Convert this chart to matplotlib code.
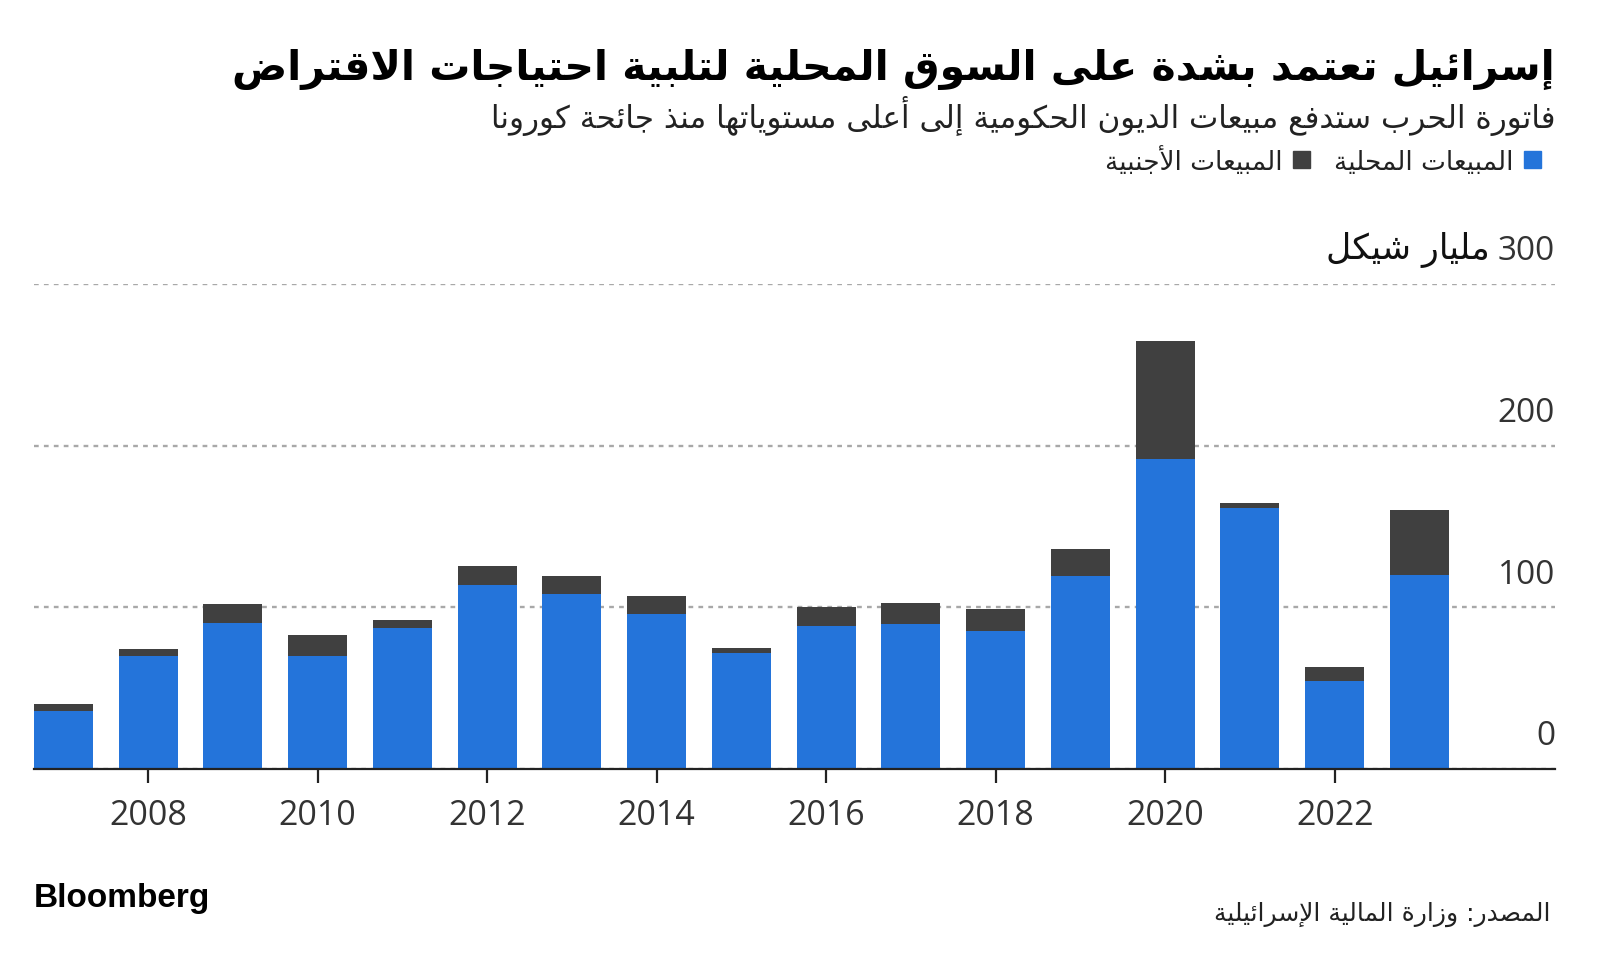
import re
import unicodedata

import matplotlib
matplotlib.use("Agg")
import matplotlib.pyplot as plt
from matplotlib.patches import Patch

# --- data ------------------------------------------------------------------ #
years = list(range(2007, 2024))
domestic = [36, 70, 90.3, 70, 87.2, 113.5, 108, 96, 71.6, 88.6, 89.4, 85.5,
            119.4, 191.8, 161.5, 54.3, 120.2]
foreign = [4, 4, 11.8, 13, 4.8, 12.3, 11.6, 11.3, 3.4, 11.5, 13.5, 13.5,
           16.8, 73.2, 3.3, 8.9, 39.8]
xtick_years = [2008, 2010, 2012, 2014, 2016, 2018, 2020, 2022]
yticks = [0, 100, 200, 300]

title = "إسرائيل تعتمد بشدة على السوق المحلية لتلبية احتياجات الاقتراض"
subtitle = "فاتورة الحرب ستدفع مبيعات الديون الحكومية إلى أعلى مستوياتها منذ جائحة كورونا"
lbl_domestic = "المبيعات المحلية"
lbl_foreign = "المبيعات الأجنبية"
unit = "مليار شيكل"
source = "المصدر: وزارة المالية الإسرائيلية"

BLUE = "#2474DA"
DARK = "#404040"


# --- minimal Arabic shaping + RTL ordering (matplotlib does neither) -------- #
RIGHT_JOIN = set("اأإآدذرزوؤةى")
LAM_ALEF = {"ا": "ALEF", "أ": "ALEF WITH HAMZA ABOVE",
            "إ": "ALEF WITH HAMZA BELOW", "آ": "ALEF WITH MADDA ABOVE"}


def _is_ar(ch):
    return "\u0620" <= ch <= "\u064a" and ch != "\u0621"


def _form(ch, form):
    try:
        return unicodedata.lookup(unicodedata.name(ch) + " " + form + " FORM")
    except KeyError:
        return ch


def ar(text):
    # merge lam + alef into a ligature token
    toks = []
    i = 0
    while i < len(text):
        c = text[i]
        if c == "ل" and i + 1 < len(text) and text[i + 1] in LAM_ALEF:
            toks.append(("LA", text[i + 1]))
            i += 2
        else:
            toks.append(("C", c))
            i += 1

    def joins_next(t):  # can connect to the following letter
        return t[0] == "C" and _is_ar(t[1]) and t[1] not in RIGHT_JOIN

    def joins_prev(t):
        return t[0] == "LA" or _is_ar(t[1])

    out = []
    for k, t in enumerate(toks):
        prev_ok = k > 0 and joins_next(toks[k - 1]) and joins_prev(t)
        next_ok = (k + 1 < len(toks) and joins_next(t)
                   and joins_prev(toks[k + 1]))
        if t[0] == "LA":
            name = "ARABIC LIGATURE LAM WITH " + LAM_ALEF[t[1]]
            form = "FINAL" if prev_ok else "ISOLATED"
            out.append(unicodedata.lookup(name + " " + form + " FORM"))
            continue
        c = t[1]
        if not _is_ar(c):
            out.append(c)
            continue
        if prev_ok and next_ok:
            out.append(_form(c, "MEDIAL"))
        elif prev_ok:
            out.append(_form(c, "FINAL"))
        elif next_ok:
            out.append(_form(c, "INITIAL"))
        else:
            out.append(_form(c, "ISOLATED"))
    vis = "".join(out)[::-1]
    return re.sub(r"[0-9A-Za-z]+", lambda m: m.group()[::-1], vis)


plt.rcParams["font.family"] = ["DejaVu Sans"]

fig = plt.figure(figsize=(16, 9.54), dpi=100)
ax = fig.add_axes([0.02125, 0.1929, 0.95065, 0.5084])

ax.bar(years, domestic, width=0.696, color=BLUE, zorder=3)
ax.bar(years, foreign, width=0.696, bottom=domestic, color=DARK, zorder=3)

ax.set_xlim(2006.652, 2024.6)
ax.set_ylim(0, 300)
for s in ["top", "right", "left"]:
    ax.spines[s].set_visible(False)
ax.spines["bottom"].set_color("#222222")
ax.spines["bottom"].set_linewidth(1.6)
ax.spines["bottom"].set_zorder(4)

ax.set_xticks(xtick_years)
ax.set_xticklabels([str(y) for y in xtick_years], family="Open Sans",
                   fontsize=24.5, color="#333333")
ax.tick_params(axis="x", length=10, width=1.6, color="#222222", pad=11)

ax.set_yticks(yticks)
ax.tick_params(axis="y", left=False, labelleft=False)
ax.yaxis.grid(True, color="#A8A8A8", linestyle=(0, (2.0, 2.2)), linewidth=1.7)
ax.set_axisbelow(True)

for v in yticks:
    ax.annotate(str(v), xy=(1, v), xycoords=("axes fraction", "data"),
                xytext=(0, 12), textcoords="offset points", ha="right",
                va="bottom", family="Open Sans", fontsize=24, color="#333333")
ax.annotate(ar(unit), xy=(1, 300), xycoords=("axes fraction", "data"),
            xytext=(-47, 12), textcoords="offset points", ha="right",
            va="bottom", fontsize=25, color="#111111")

fig.text(0.9719, 0.927, ar(title), ha="right", va="center",
         fontsize=29.5, fontweight="bold", color="#000000")
fig.text(0.9719, 0.878, ar(subtitle), ha="right", va="center",
         fontsize=22.3, color="#222222")

handles = [Patch(color=DARK), Patch(color=BLUE)]
labels = [ar(lbl_foreign), ar(lbl_domestic)]
fig.legend(handles, labels, loc="center right", bbox_to_anchor=(0.978, 0.831),
           ncol=2, frameon=False, markerfirst=False, fontsize=19,
           handlelength=0.65, handleheight=0.65, handletextpad=0.4,
           columnspacing=0.9, labelcolor="#222222")

fig.text(0.0212, 0.0587, "Bloomberg", ha="left", va="center",
         family="Liberation Sans", fontweight="bold", fontsize=24,
         color="#000000")
fig.text(0.969, 0.042, ar(source), ha="right", va="center",
         fontsize=18, color="#222222")

fig.savefig("out.png", dpi=100)
